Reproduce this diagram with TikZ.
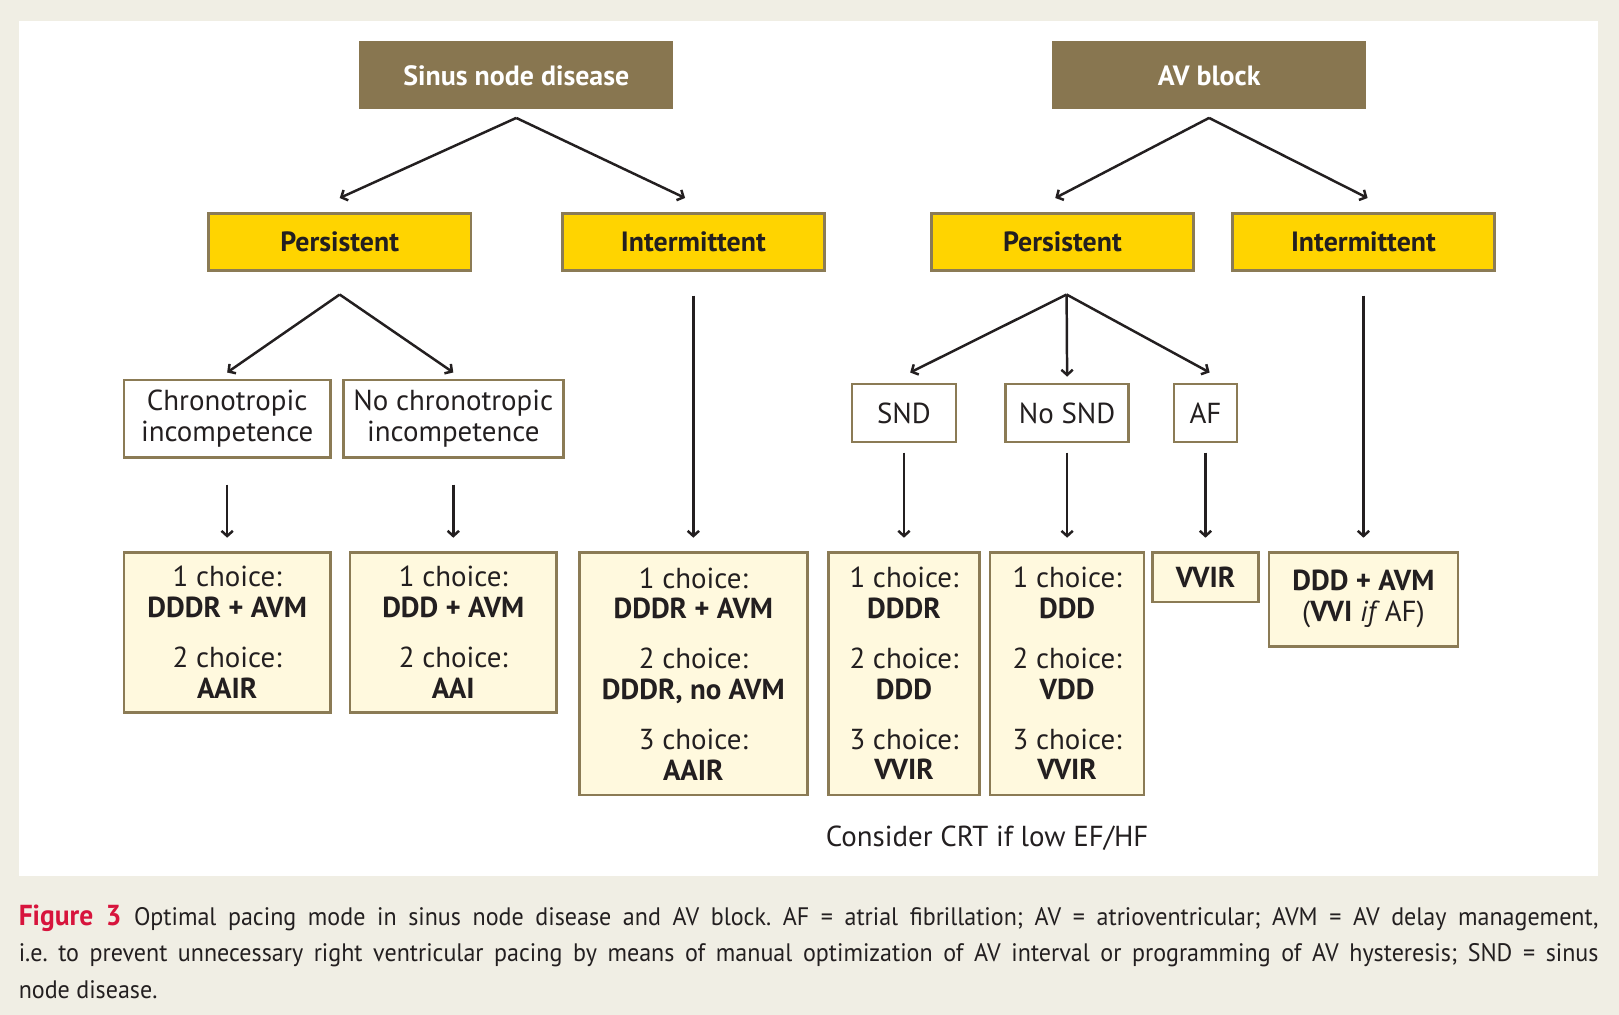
\documentclass[tikz,border=0pt]{standalone}
\usepackage{fontspec}
\setmainfont{PT Sans}
\newfontfamily\capfont[FakeStretch=0.95]{PT Sans}
\usetikzlibrary{arrows.meta}
\definecolor{paper}{RGB}{240,238,228}
\definecolor{olive}{RGB}{136,118,80}
\definecolor{frame}{RGB}{139,123,85}
\definecolor{gold}{RGB}{255,212,0}
\definecolor{cream}{RGB}{255,249,222}
\definecolor{ink}{RGB}{35,31,32}
\definecolor{figred}{RGB}{215,20,60}
\tikzset{
    >={Straight Barb[length=5pt,width=11pt]},
    pace/.style={
        every node/.style={align=center,inner sep=0pt,text=ink,font=\fontsize{28}{30}\selectfont},
        hdr/.style={fill=olive,text=white,font=\fontsize{27}{30}\selectfont\bfseries,minimum width=304pt,minimum height=66pt},
        kind/.style={fill=gold,draw=frame,line width=2.5pt,font=\fontsize{27}{30}\selectfont\bfseries,minimum width=254pt,minimum height=55pt},
        cond/.style={fill=white,draw=frame,line width=2.5pt,minimum height=56pt},
        mode/.style={fill=cream,draw=frame,line width=2.5pt},
        arr/.style={->,draw=ink,line width=2.4pt}
    }
}
\newcommand{\pick}[2]{#1 choice:\\\textbf{#2}}

\begin{document}
\begin{tikzpicture}[x=1pt,y=-1pt,pace]
    \fill[paper] (0,0) rectangle (1568,983);
    \fill[white] (18,20) rectangle (1548,848);
    \useasboundingbox (0,0) rectangle (1568,983);
    \node[hdr] (snd0) at (500,73) {Sinus node disease};
    \node[hdr] (avb) at (1171,73) {AV block};
    \node[kind] (perL) at (329,234.5) {Persistent};
    \node[kind] (intL) at (671.5,234.5) {Intermittent};
    \node[kind] (perR) at (1029,234.5) {Persistent};
    \node[kind] (intR) at (1320.5,234.5) {Intermittent};
    \node[cond,minimum width=200pt,minimum height=75pt] (chrono) at (220,405.5) {Chronotropic\\incompetence};
    \node[cond,minimum width=213pt,minimum height=75pt] (nochrono) at (439,405.5) {No chronotropic\\incompetence};
    \node[cond,minimum width=101pt] (snd) at (875.5,400) {SND};
    \node[cond,minimum width=119pt] (nosnd) at (1033.5,400) {No SND};
    \node[cond,minimum width=61pt] (af) at (1167.5,400) {AF};
    \node[mode,minimum width=200pt,minimum height=155pt] (c1) at (220,612.5)
        {\pick{1}{DDDR + AVM}\\[18pt]\pick{2}{AAIR}};
    \node[mode,minimum width=200pt,minimum height=155pt] (c2) at (439,612.5)
        {\pick{1}{DDD + AVM}\\[18pt]\pick{2}{AAI}};
    \node[mode,minimum width=221pt,minimum height=235pt] (c3) at (671.5,652.5)
        {\pick{1}{DDDR + AVM}\\[18pt]\pick{2}{DDDR, no AVM}\\[18pt]\pick{3}{AAIR}};
    \node[mode,minimum width=146pt,minimum height=235pt] (c4) at (875.5,652.5)
        {\pick{1}{DDDR}\\[18pt]\pick{2}{DDD}\\[18pt]\pick{3}{VVIR}};
    \node[mode,minimum width=149pt,minimum height=235pt] (c5) at (1033.5,652.5)
        {\pick{1}{DDD}\\[18pt]\pick{2}{VDD}\\[18pt]\pick{3}{VVIR}};
    \node[mode,minimum width=103pt,minimum height=48pt] (c6) at (1167.5,559) {\textbf{VVIR}};
    \node[mode,minimum width=183pt,minimum height=91pt] (c7) at (1320.5,580.5)
        {\textbf{DDD + AVM}\\(\textbf{VVI} \textit{if}\,AF)};
    \node (crt) at (956,812) {Consider CRT if low EF/HF};
    \node[anchor=north west,text width=1530pt,align=justify,font=\capfont\fontsize{24.5}{35.5}\selectfont\frenchspacing] (cap) at (18,876)
        {\textcolor{figred}{\fontsize{28}{35.5}\selectfont\bfseries Figure 3}\enspace Optimal pacing mode in sinus node disease and AV block. AF = atrial fibrillation; AV = atrioventricular; AVM = AV delay management,\linebreak
        i.e. to prevent unnecessary right ventricular pacing by means of manual optimization of AV interval or programming of AV hysteresis; SND = sinus\linebreak
        node disease.};
    \draw[arr] ([yshift=-8pt]snd0.south) -- ([yshift=14pt]perL.north);
    \draw[arr] ([yshift=-8pt]snd0.south) -- ([xshift=-8pt,yshift=14pt]intL.north);
    \draw[arr] ([yshift=-8pt]avb.south) -- ([xshift=-7pt,yshift=14pt]perR.north);
    \draw[arr] ([yshift=-8pt]avb.south) -- ([xshift=4pt,yshift=14pt]intR.north);
    \draw[arr] ([yshift=-22pt]perL.south) -- ([yshift=6pt]chrono.north);
    \draw[arr] ([yshift=-22pt]perL.south) -- ([yshift=6pt]nochrono.north);
    \draw[arr] ([xshift=4pt,yshift=-22pt]perR.south) -- ([xshift=6pt,yshift=10pt]snd.north);
    \draw[arr] ([xshift=4pt,yshift=-22pt]perR.south) -- ([yshift=6pt]nosnd.north);
    \draw[arr] ([xshift=4pt,yshift=-22pt]perR.south) -- ([xshift=4pt,yshift=10pt]af.north);
    \draw[arr] ([yshift=-23pt]intL.south) -- ([yshift=13pt]c3.north);
    \draw[arr] ([yshift=-23pt]intR.south) -- ([yshift=13pt]c7.north);
    \draw[arr] ([yshift=-25pt]chrono.south) -- ([yshift=13pt]c1.north);
    \draw[arr] ([yshift=-25pt]nochrono.south) -- ([yshift=13pt]c2.north);
    \draw[arr] ([yshift=-9pt]snd.south) -- ([yshift=13pt]c4.north);
    \draw[arr] ([yshift=-9pt]nosnd.south) -- ([yshift=13pt]c5.north);
    \draw[arr] ([yshift=-9pt]af.south) -- ([yshift=13pt]c6.north);
\end{tikzpicture}
\end{document}
